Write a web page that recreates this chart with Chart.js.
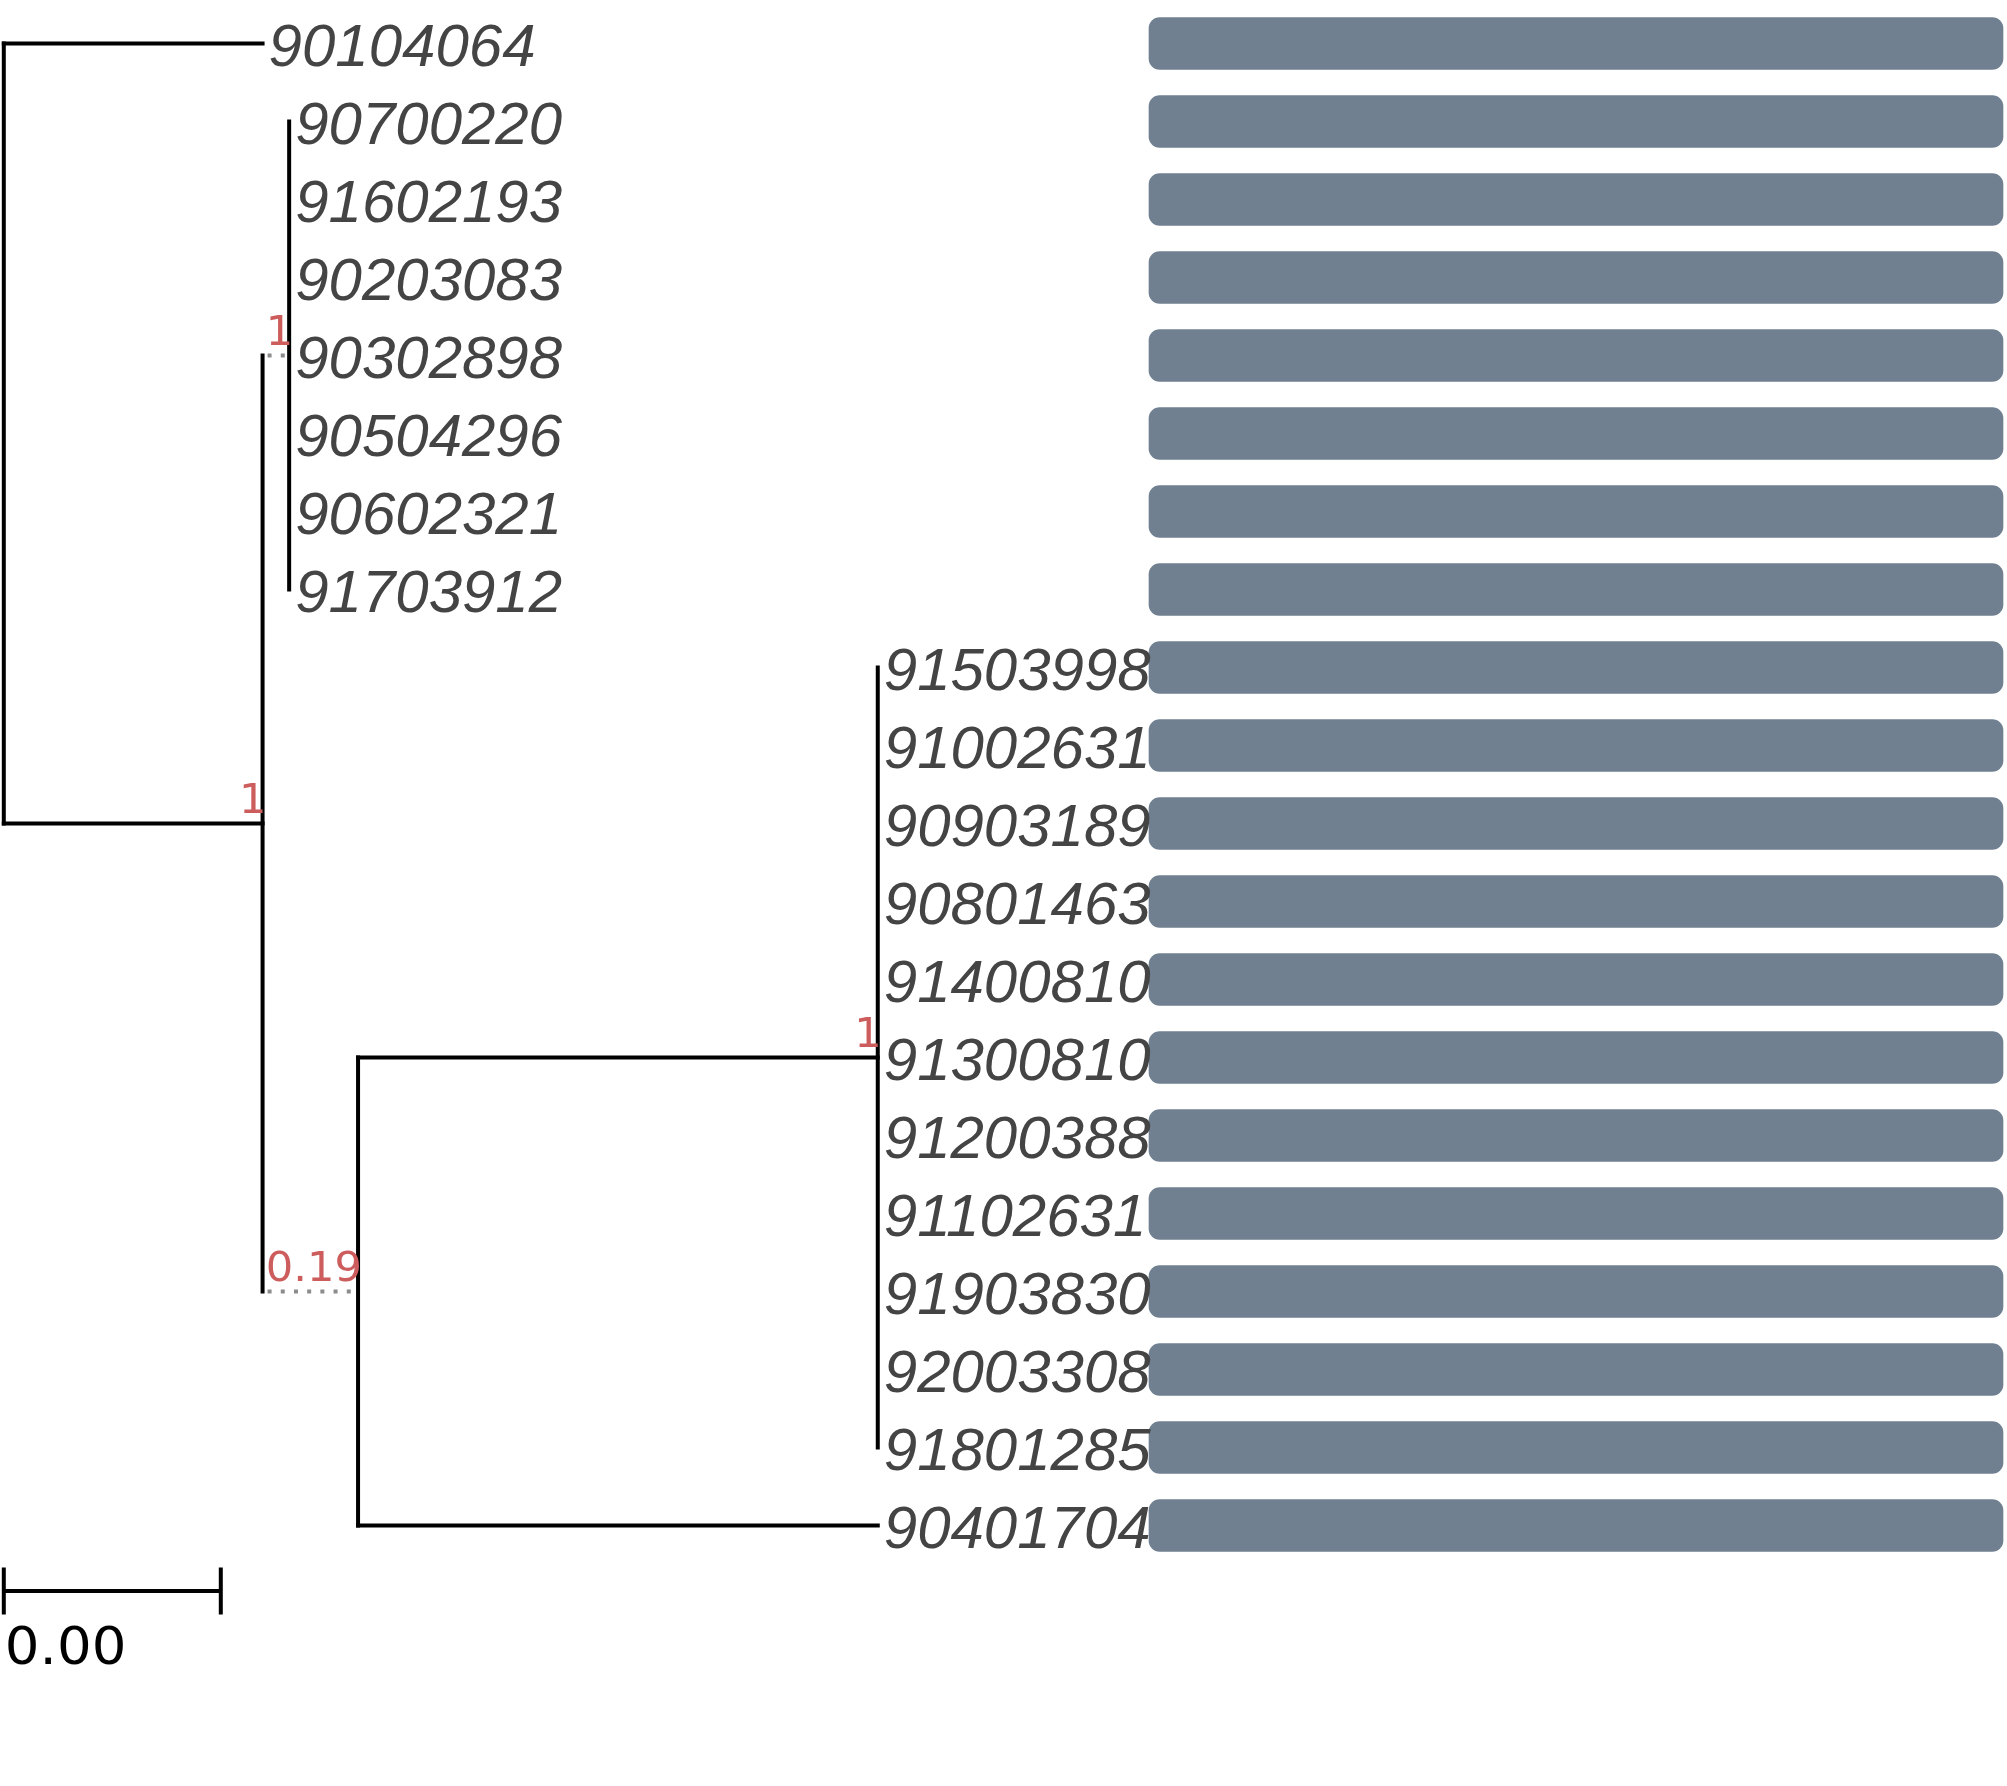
<!DOCTYPE html>
<html>
<head>
<meta charset="utf-8">
<script src="https://cdn.jsdelivr.net/npm/chart.js@4.4.1/dist/chart.umd.min.js"></script>
<style>
html, body { margin: 0; padding: 0; background: #ffffff; }
#wrap { position: relative; width: 2007px; height: 1786px; }
</style>
</head>
<body>
<div id="wrap"><canvas id="c"></canvas></div>
<script>
// ---- data ----
const leafNames = ['90104064','90700220','91602193','90203083','90302898','90504296','90602321','91703912',
  '91503998','91002631','90903189','90801463','91400810','91300810','91200388','91102631','91903830',
  '92003308','91801285','90401704'];
const leafParents = ['root','U','U','U','U','U','U','U',
  'C','C','C','C','C','C','C','C','C','C','C','B'];
const leafBranchLengths = [0.00477,0,0,0,0,0,0,0,0,0,0,0,0,0,0,0,0,0,0,0.00958];
const nodeNames = ['root','A','U','B','C'];
const nodeParents = [null,'root','A','A','B'];
const nodeBranchLengths = [0,0.00477,0.00049,0.00176,0.00958];
const nodeSupport = [null,'1','1','0.19','1'];
const dottedBranches = ['U','B'];
const barValues = [1,1,1,1,1,1,1,1,1,1,1,1,1,1,1,1,1,1,1,1];
const scaleBarLength = 0.004;
const scaleBarLabels = ['0.00'];

// ---- tree layout helpers ----
function depthOf(name) {
  const i = nodeNames.indexOf(name);
  const p = nodeParents[i];
  return p ? depthOf(p) + nodeBranchLengths[i] : 0;
}
function childYs(name) {
  const ys = [];
  leafParents.forEach((p, i) => { if (p === name) ys.push(i); });
  nodeNames.forEach((n, i) => { if (nodeParents[i] === name) ys.push(nodeY(n)); });
  return ys;
}
function nodeY(name) {
  const ys = childYs(name);
  return (Math.min(...ys) + Math.max(...ys)) / 2;
}

const LW = 4;
const solid = { borderColor: '#000000', borderWidth: LW, borderCapStyle: 'square' };
const dotted = { borderColor: '#8c8c8c', borderWidth: LW, borderDash: [4, 9.2], borderDashOffset: -5, borderCapStyle: 'butt' };
const tickStyle = { borderColor: '#000000', borderWidth: LW, borderCapStyle: 'butt' };
function lineDs(points, style) {
  return Object.assign({ type: 'scatter', data: points, showLine: true, pointRadius: 0,
    pointHoverRadius: 0, fill: false, tension: 0, xAxisID: 'x', yAxisID: 'y' }, style);
}

const datasets = [];
// vertical connectors
nodeNames.forEach(n => {
  const ys = childYs(n);
  const x = depthOf(n);
  datasets.push(lineDs([{ x, y: Math.min(...ys) }, { x, y: Math.max(...ys) }], solid));
});
// internal branches
nodeNames.forEach((n, i) => {
  const p = nodeParents[i];
  if (!p) return;
  const y = nodeY(n);
  datasets.push(lineDs([{ x: depthOf(p), y }, { x: depthOf(n), y }],
    dottedBranches.includes(n) ? dotted : solid));
});
// leaf branches
leafNames.forEach((name, i) => {
  if (leafBranchLengths[i] <= 0) return;
  const px = depthOf(leafParents[i]);
  datasets.push(lineDs([{ x: px, y: i }, { x: px + leafBranchLengths[i], y: i }], solid));
});
// scale bar
const sbY = leafNames.length - 1 + 0.84;
const sbTick = 0.30;
datasets.push(lineDs([{ x: 0, y: sbY }, { x: scaleBarLength, y: sbY }], tickStyle));
datasets.push(lineDs([{ x: 0, y: sbY - sbTick }, { x: 0, y: sbY + sbTick }], tickStyle));
datasets.push(lineDs([{ x: scaleBarLength, y: sbY - sbTick }, { x: scaleBarLength, y: sbY + sbTick }], tickStyle));

// bars panel
datasets.push({
  type: 'bar', indexAxis: 'y', xAxisID: 'x2', yAxisID: 'y', grouped: false,
  data: leafNames.map((n, i) => ({ x: barValues[i], y: i })),
  backgroundColor: '#708090', borderWidth: 0, borderRadius: 11, borderSkipped: false,
  categoryPercentage: 1, barPercentage: 1, maxBarThickness: 52
});

// ---- text plugin ----
function stretchedText(ctx, text, x, y, sx) {
  ctx.save();
  ctx.translate(x, y);
  ctx.scale(sx, 1);
  ctx.fillText(text, 0, 0);
  ctx.restore();
}
const labelPlugin = {
  id: 'treeLabels',
  afterDatasetsDraw(chart) {
    const ctx = chart.ctx;
    const xs = chart.scales.x, ys = chart.scales.y;
    ctx.save();
    // leaf labels
    ctx.font = "italic 60px 'Liberation Sans', Arial, sans-serif";
    ctx.fillStyle = '#444444';
    ctx.textAlign = 'left';
    ctx.textBaseline = 'alphabetic';
    leafNames.forEach((name, i) => {
      const x = xs.getPixelForValue(depthOf(leafParents[i]) + leafBranchLengths[i]) + 6;
      const y = ys.getPixelForValue(i) + 22;
      ctx.fillText(name, x, y);
    });
    // support values
    ctx.font = "40px 'DejaVu Sans', sans-serif";
    ctx.fillStyle = '#CD5C5C';
    ctx.textAlign = 'right';
    nodeNames.forEach((n, i) => {
      if (!nodeSupport[i]) return;
      const x = xs.getPixelForValue(depthOf(n)) + 4;
      const y = ys.getPixelForValue(nodeY(n)) - 11;
      stretchedText(ctx, nodeSupport[i], x, y, 1.08);
    });
    // scale bar label
    ctx.font = "52px 'DejaVu Sans', sans-serif";
    ctx.fillStyle = '#000000';
    ctx.textAlign = 'left';
    stretchedText(ctx, scaleBarLabels[0], xs.getPixelForValue(0) + 1, ys.getPixelForValue(sbY) + 73, 1.05);
    ctx.restore();
  }
};

const W = 2007, H = 1786;
const pxPerUnit = 217 / scaleBarLength;
const xMin = -3.8 / pxPerUnit;
const yRow = 78, yTop = 43.5;
const yMin = -yTop / yRow;
const barLeft = 1149, barRight = 2003;
const x2Min = -barLeft / (barRight - barLeft);

new Chart(document.getElementById('c'), {
  type: 'scatter',
  data: { datasets },
  options: {
    responsive: true,
    maintainAspectRatio: false,
    animation: false,
    devicePixelRatio: 1,
    layout: { padding: 0 },
    plugins: { legend: { display: false }, tooltip: { enabled: false } },
    events: [],
    scales: {
      x: { type: 'linear', display: false, min: xMin, max: xMin + W / pxPerUnit, offset: false },
      x2: { type: 'linear', display: false, min: x2Min, max: x2Min + W / (barRight - barLeft), offset: false },
      y: {
        type: 'linear', display: false, reverse: true, min: yMin, max: yMin + H / yRow, offset: false,
        afterBuildTicks: (scale) => { scale.ticks = leafNames.map((n, i) => ({ value: i })); }
      }
    }
  },
  plugins: [labelPlugin]
});
</script>
</body>
</html>
